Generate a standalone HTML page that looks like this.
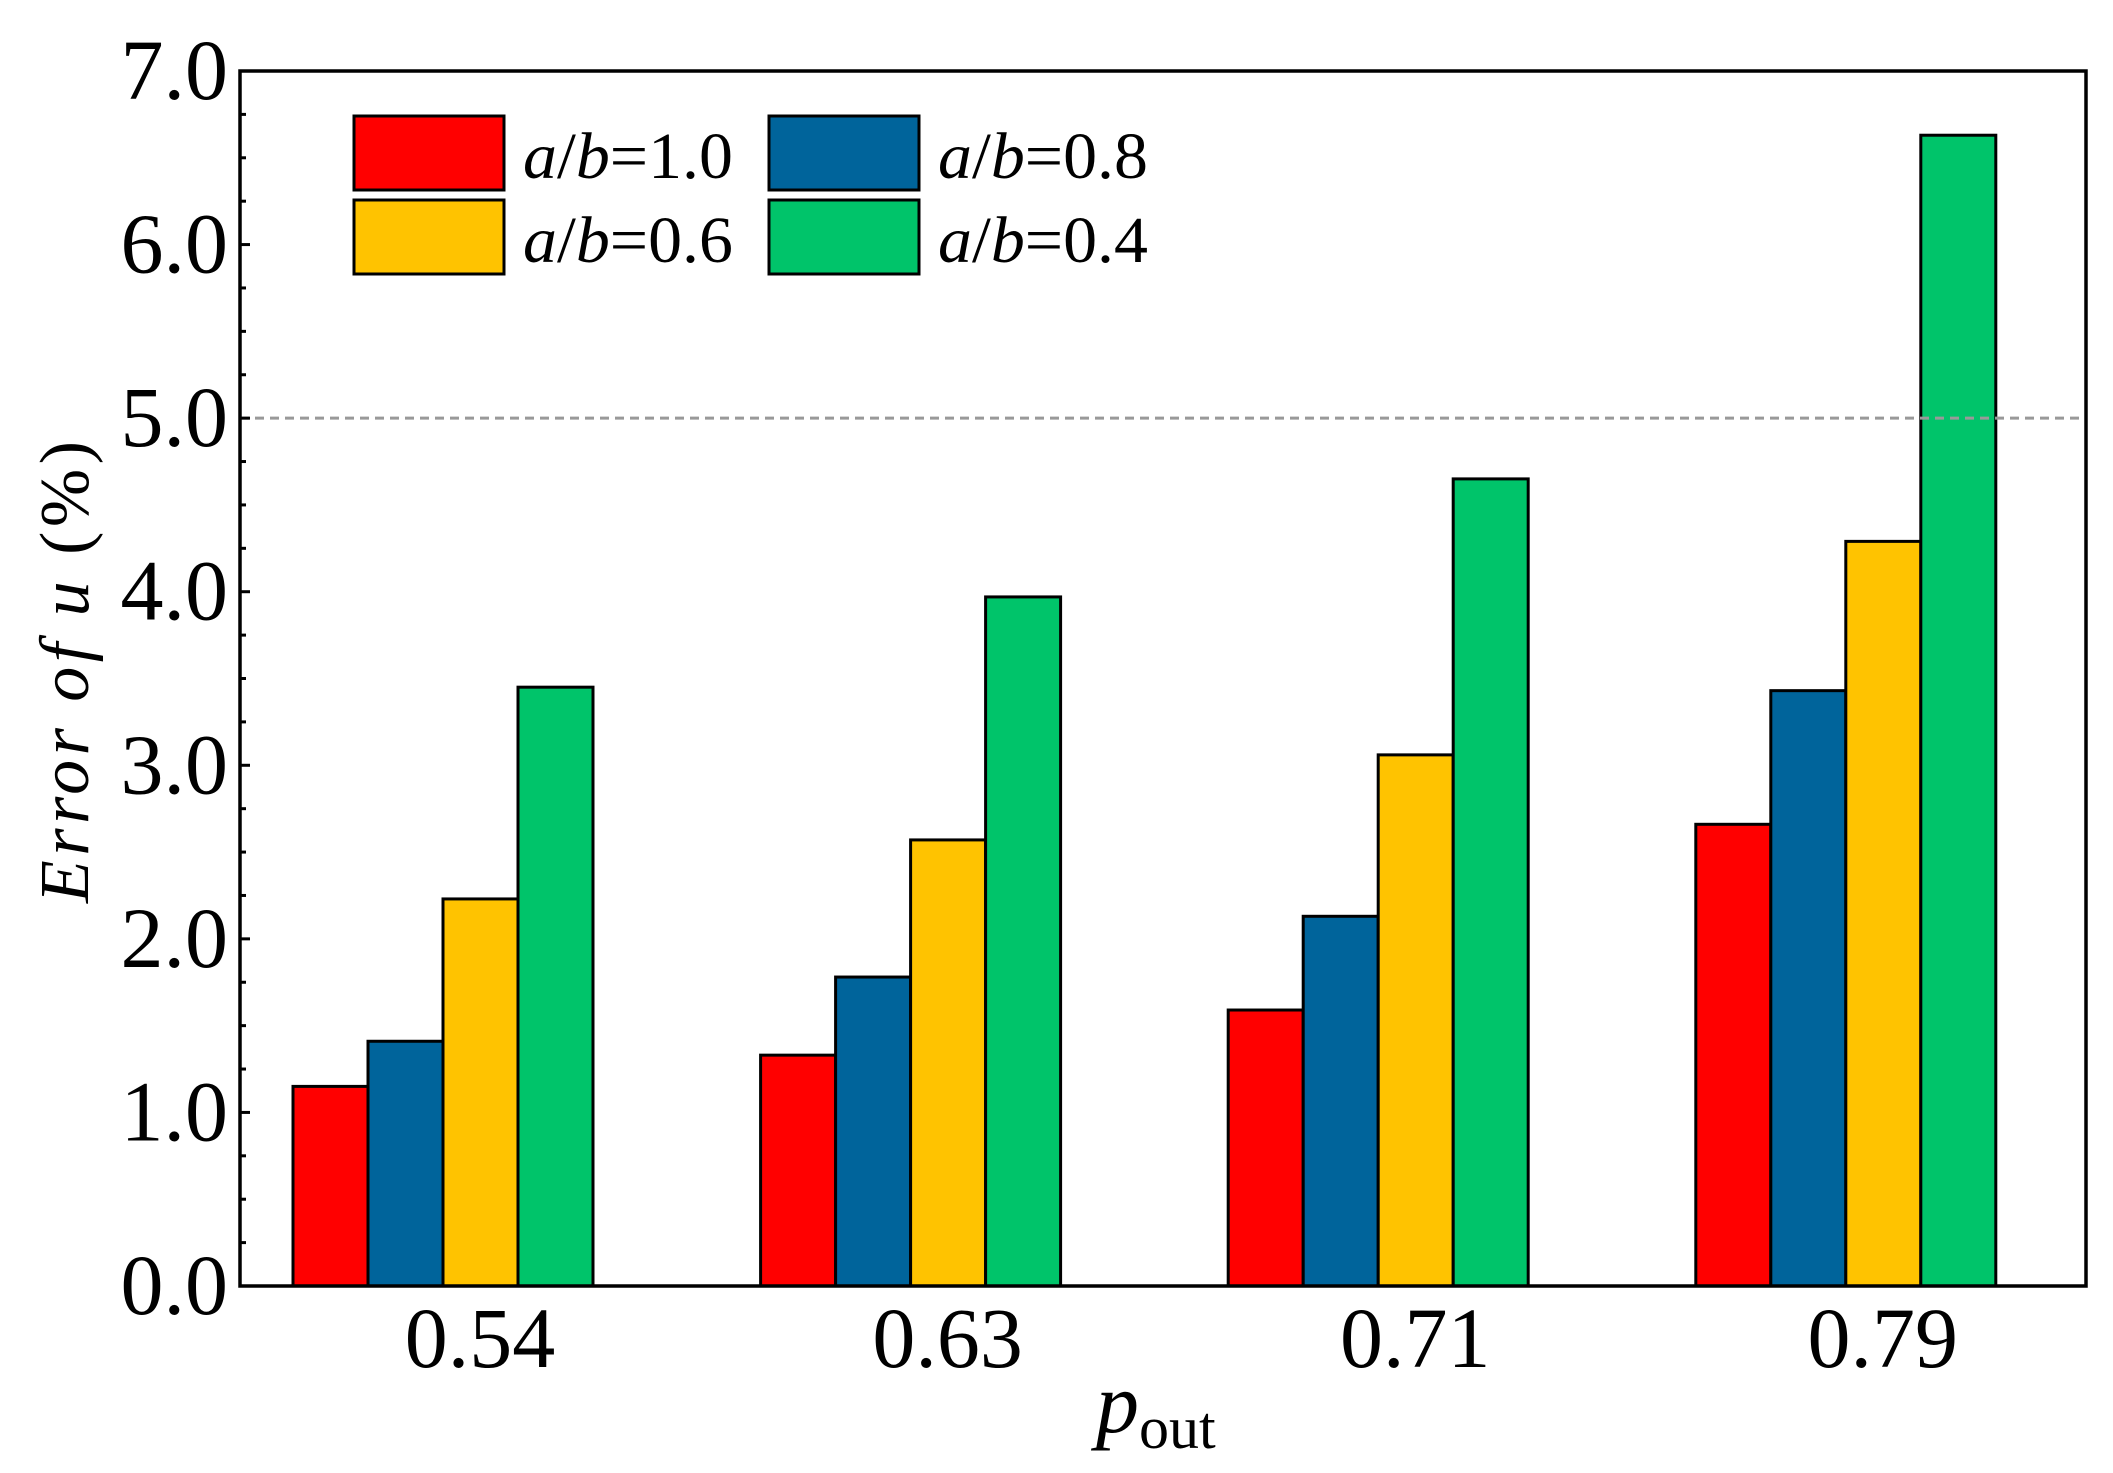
<!DOCTYPE html>
<html><head><meta charset="utf-8"><style>
html,body{margin:0;padding:0;background:#fff;}
svg{display:block;font-family:"Liberation Serif",serif;}
</style></head><body>
<svg id="chart" width="2113" height="1473" viewBox="0 0 2113 1473" xmlns="http://www.w3.org/2000/svg">
<rect x="0" y="0" width="2113" height="1473" fill="#fff"/>
<g id="bars"></g>
<g id="axes"></g>
<g id="legend"></g>
<text transform="translate(88,672) rotate(-90)" text-anchor="middle" font-size="70" textLength="462" lengthAdjust="spacing"><tspan font-style="italic">Error of u</tspan> (%)</text>
<text x="1096" y="1432" font-size="86" font-style="italic">p<tspan font-style="normal" font-size="60" dy="16">out</tspan></text>
</svg>
<script>
const categories = ["0.54", "0.63", "0.71", "0.79"];
const seriesNames = ["a/b=1.0", "a/b=0.8", "a/b=0.6", "a/b=0.4"];
const series10 = [1.15, 1.33, 1.59, 2.66];
const series08 = [1.41, 1.78, 2.13, 3.43];
const series06 = [2.23, 2.57, 3.06, 4.29];
const series04 = [3.45, 3.97, 4.65, 6.63];
const yTicks = ["0.0", "1.0", "2.0", "3.0", "4.0", "5.0", "6.0", "7.0"];
const refLine = 5.0;

const NS = "http://www.w3.org/2000/svg";
const L = 240, R = 2086, T = 71, B = 1286, YMAX = 7;
const colors = ["#ff0000", "#00649b", "#ffc300", "#00c46a"];
const allSeries = [series10, series08, series06, series04];
const groupSpacing = 467.6, firstCenter = 443, barW = 75, labelOffset = 37;
function yS(v) { return B - (v / YMAX) * (B - T); }
function xC(i) { return firstCenter + i * groupSpacing; }
function mk(tag, attrs, parent) {
  const e = document.createElementNS(NS, tag);
  for (const k in attrs) e.setAttribute(k, attrs[k]);
  parent.appendChild(e);
  return e;
}
const bars = document.getElementById("bars");
const axes = document.getElementById("axes");
const legend = document.getElementById("legend");

allSeries.forEach((s, si) => {
  s.forEach((v, ci) => {
    const x = xC(ci) + (si - 2) * barW;
    const r = mk("rect", { x: x, y: yS(v), width: barW, height: B - yS(v), fill: colors[si], stroke: "#000", "stroke-width": 3 }, bars);
    
    
  });
});

const ref = mk("line", { x1: L, x2: R, y1: yS(refLine), y2: yS(refLine), stroke: "#999", "stroke-width": 3, "stroke-dasharray": "9,6" }, axes);



const frame = mk("rect", { x: L, y: T, width: R - L, height: B - T, fill: "none", stroke: "#000", "stroke-width": 3.5 }, axes);



for (let k = 0; k <= YMAX * 4; k++) {
  const v = k / 4, y = yS(v), major = k % 4 === 0;
  const t = mk("line", { x1: L, x2: L + (major ? 10 : 6), y1: y, y2: y, stroke: "#000", "stroke-width": 3 }, axes);
  
  
}
yTicks.forEach((lab, i) => {
  const t = mk("text", { x: 228, y: yS(parseFloat(lab)) + 28, "text-anchor": "end", "font-size": 86 }, axes);
  t.textContent = lab;
  
  
});
categories.forEach((c, i) => {
  const t = mk("text", { x: xC(i) + labelOffset, y: 1367, "text-anchor": "middle", "font-size": 86 }, axes);
  t.textContent = c;
  
  
});

const legPos = [[354, 116], [769, 116], [354, 200], [769, 200]];
seriesNames.forEach((n, i) => {
  const [x, y] = legPos[i];
  const g = mk("g", {}, legend);
  
  
  const sw = mk("rect", { x: x, y: y, width: 150, height: 74, fill: colors[i], stroke: "#000", "stroke-width": 3 }, g);
  
  
  const t = mk("text", { x: x + 169, y: y + 62, "font-size": 66, textLength: 210, lengthAdjust: "spacingAndGlyphs" }, g);
  t.innerHTML = '<tspan font-style="italic">a</tspan>/<tspan font-style="italic">b</tspan>' + n.slice(3);
  
  
});
</script>
</body></html>
